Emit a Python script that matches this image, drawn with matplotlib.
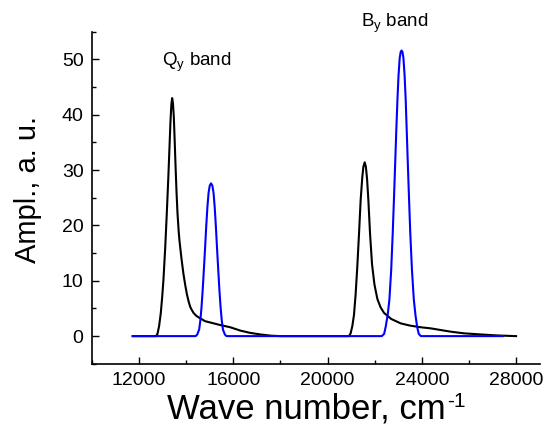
import matplotlib
matplotlib.use("Agg")
from matplotlib import pyplot as plt
from matplotlib.ticker import MultipleLocator

plt.rcParams['font.family'] = ['Liberation Sans', 'DejaVu Sans']
plt.rcParams['mathtext.fontset'] = 'custom'
plt.rcParams['mathtext.rm'] = 'Liberation Sans'

# black spectrum
black_x = [11730, 12600, 12723, 12780, 12850, 12923, 12980, 13035, 13110, 13177,
           13240, 13290, 13330, 13370, 13404, 13440, 13476, 13510, 13546, 13590,
           13631, 13680, 13716, 13800, 13885, 13960, 14029, 14100, 14170, 14240,
           14311, 14420, 14523, 14800, 15446, 15872, 16297, 16700, 17148, 17600,
           18000, 20800,
           20906, 20978, 21050, 21120, 21190, 21262, 21340, 21404, 21475, 21520,
           21575, 21625, 21674, 21731, 21801, 21886, 21990, 22114, 22250, 22395,
           22700, 23105, 23500, 23956, 24382, 24800, 25233, 25800, 26510, 27200,
           28000]
black_y = [0, 0, 0, 0.4, 1.8, 4.2, 7, 10.2, 16, 22.2,
           28.5, 34, 38.5, 41.8, 43, 42, 39.5, 35.5, 31, 26,
           22.2, 19, 17.2, 14, 11.2, 9.2, 7.6, 6.3, 5.3, 4.7,
           4.2, 3.7, 3.4, 2.7, 2.0, 1.6, 1.0, 0.6, 0.3, 0.08,
           0, 0,
           0, 0.5, 1.8, 3.8, 7.5, 12.6, 19, 24.6, 28.8, 30.6,
           31.4, 30.6, 28.5, 24.6, 18.6, 13, 9.3, 6.7, 5.2, 4.2,
           3.1, 2.3, 1.9, 1.6, 1.4, 1.1, 0.8, 0.5, 0.3, 0.12,
           0]

# blue spectrum
blue_x = [11730, 14400, 14470, 14550, 14600, 14650, 14700, 14750, 14800, 14850,
          14900, 14950, 15000, 15055, 15110, 15160, 15210, 15260, 15310, 15360,
          15410, 15460, 15510, 15560, 15640, 15710, 22300,
          22400, 22467, 22550, 22624, 22700, 22765, 22815, 22864, 22915, 22965,
          23010, 23060, 23100, 23140, 23180, 23220, 23270, 23315, 23360, 23410,
          23460, 23510, 23580, 23660, 23730, 23800, 23870, 23960, 27440]
blue_y = [0, 0, 0.3, 1.2, 2.8, 5.2, 8.3, 12, 15.8, 19.8,
          23.3, 25.9, 27.2, 27.6, 27.2, 25.9, 23.3, 19.8, 15.8, 12,
          8.3, 5.2, 2.8, 1.2, 0.3, 0, 0,
          0.4, 1.7, 3.8, 6.6, 12, 18.6, 24.5, 30.6, 37, 42.7,
          47, 50.2, 51.3, 51.6, 51.3, 50.2, 47, 42.7, 37, 30.6,
          24.5, 18.6, 12, 6.6, 3.8, 1.7, 0.4, 0, 0]

x_ticks = [12000, 16000, 20000, 24000, 28000]
y_ticks = [0, 10, 20, 30, 40, 50]

fig = plt.figure(figsize=(5.44, 4.28), dpi=100)
ax = fig.add_axes([0.169, 0.150, 0.823, 0.776])

ax.plot(black_x, black_y, color='black', lw=1.5)
ax.plot(blue_x, blue_y, color='#0000ff', lw=1.5)

ax.set_xlim(10000, 29000)
ax.set_ylim(-5, 55)
ax.set_xticks(x_ticks)
ax.set_yticks(y_ticks)
ax.xaxis.set_minor_locator(MultipleLocator(2000))
ax.yaxis.set_minor_locator(MultipleLocator(5))
ax.tick_params(which='both', direction='in', width=1, labelsize=14, pad=6)
ax.tick_params(which='major', length=5)
ax.tick_params(which='minor', length=3)
ax.spines['top'].set_visible(False)
ax.spines['right'].set_visible(False)
ax.spines['left'].set_linewidth(1.2)
ax.spines['bottom'].set_linewidth(1.2)

# x label with a hyphen superscript, as in the original
ax.set_xlabel('Wave number, cm', fontsize=25, labelpad=0, ha='left')
ax.xaxis.set_label_coords(0.1675, -0.085)
fig.text(447 / 544, 1 - 407 / 428, '-1', fontsize=15)
ax.set_ylabel('Ampl., a. u.', fontsize=21, labelpad=14)
ax.yaxis.label.set_y(0.525)

ax.text(12979, 48.8, r'$\mathrm{Q_y}$ band', fontsize=13.5)
ax.text(21404, 55.8, r'$\mathrm{B_y}$ band', fontsize=13.5, clip_on=False)

plt.savefig('out.png')
